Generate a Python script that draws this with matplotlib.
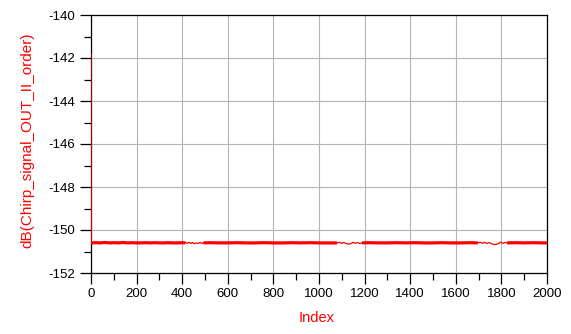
import matplotlib
matplotlib.use("Agg")
import matplotlib.pyplot as plt
from matplotlib.ticker import MultipleLocator

plt.rcParams['font.family'] = ['Liberation Sans', 'DejaVu Sans']
plt.rcParams['axes.unicode_minus'] = False

# ---- data ----
# start spike
start_idx = [0, 1]
start_val = [-141.8, -150.60]

# dense-noise segments (drawn as a thick band)
dense1_idx = [1, 20, 40, 60, 80, 100, 120, 140, 160, 180, 200, 220, 240, 260, 280, 300, 320, 340, 360, 380, 400, 414]
dense1_val = [-150.60, -150.59, -150.60, -150.58, -150.60, -150.59, -150.60, -150.58, -150.60, -150.59,
              -150.60, -150.60, -150.59, -150.60, -150.59, -150.60, -150.60, -150.59, -150.60, -150.60, -150.59, -150.60]
dense2_idx = [493, 520, 560, 600, 640, 680, 720, 760, 800, 840, 880, 920, 960, 1000, 1040, 1079]
dense2_val = [-150.60, -150.59, -150.60, -150.60, -150.59, -150.60, -150.60, -150.59, -150.60, -150.60,
              -150.59, -150.60, -150.59, -150.60, -150.60, -150.60]
dense3_idx = [1189, 1220, 1260, 1300, 1340, 1380, 1420, 1460, 1500, 1540, 1580, 1620, 1660, 1697]
dense3_val = [-150.60, -150.59, -150.60, -150.60, -150.59, -150.60, -150.59, -150.60, -150.60, -150.59,
              -150.60, -150.60, -150.59, -150.60]
dense4_idx = [1825, 1860, 1900, 1940, 1980, 2000]
dense4_val = [-150.60, -150.59, -150.60, -150.59, -150.60, -150.60]

# low-noise wiggle segments (thin line)
wig1_idx = [414, 422, 430, 438, 446, 454, 462, 470, 478, 486, 493]
wig1_val = [-150.58, -150.62, -150.57, -150.63, -150.58, -150.64, -150.60, -150.63, -150.58, -150.62, -150.60]
wig2_idx = [1079, 1089, 1099, 1109, 1119, 1129, 1139, 1149, 1159, 1169, 1179, 1189]
wig2_val = [-150.60, -150.57, -150.62, -150.58, -150.63, -150.66, -150.64, -150.57, -150.62, -150.58, -150.63, -150.60]
wig3_idx = [1697, 1707, 1717, 1727, 1737, 1747, 1757, 1767, 1777, 1787, 1797, 1807, 1817, 1825]
wig3_val = [-150.60, -150.57, -150.62, -150.57, -150.63, -150.58, -150.64, -150.67, -150.67, -150.63, -150.56, -150.62, -150.58, -150.60]

x_ticks = [0, 200, 400, 600, 800, 1000, 1200, 1400, 1600, 1800, 2000]
y_ticks = [-152, -150, -148, -146, -144, -142, -140]

# ---- figure ----
fig = plt.figure(figsize=(5.71, 3.34), dpi=100)
ax = fig.add_axes([91/571, 61/334, 456/571, 258/334])

red = '#ff0000'
for xi, yi in [(dense1_idx, dense1_val), (dense2_idx, dense2_val),
               (dense3_idx, dense3_val), (dense4_idx, dense4_val)]:
    ax.plot(xi, yi, color=red, lw=2.3, solid_capstyle='butt', zorder=3)
for xi, yi in [(start_idx, start_val), (wig1_idx, wig1_val),
               (wig2_idx, wig2_val), (wig3_idx, wig3_val)]:
    ax.plot(xi, yi, color=red, lw=0.9, zorder=3)

ax.set_xlim(0, 2000)
ax.set_ylim(-152, -140)
ax.set_xticks(x_ticks)
ax.set_yticks(y_ticks)
ax.xaxis.set_minor_locator(MultipleLocator(100))
ax.yaxis.set_minor_locator(MultipleLocator(1))

ax.grid(True, which='major', color='#b4b4b4', lw=0.8)
ax.set_axisbelow(True)
for s in ax.spines.values():
    s.set_linewidth(0.9)
    s.set_color('black')

ax.tick_params(which='major', direction='out', length=8, width=0.9, labelsize=9.5, pad=3)
ax.tick_params(axis='y', which='major', pad=3.5)
ax.tick_params(which='minor', direction='out', length=5, width=0.9)

ax.set_xlabel('Index', color=red, fontsize=10.5)
ax.xaxis.label.set_va('center')
ax.xaxis.set_label_coords((317 - 91) / 456, (273 - 318) / 258)
ax.set_ylabel('dB(Chirp_signal_OUT_II_order)', color=red, fontsize=11)
ax.yaxis.label.set_va('center')
ax.yaxis.set_label_coords((27.5 - 91) / 456, (273 - 140) / 258)

fig.savefig('out.png', dpi=100)
